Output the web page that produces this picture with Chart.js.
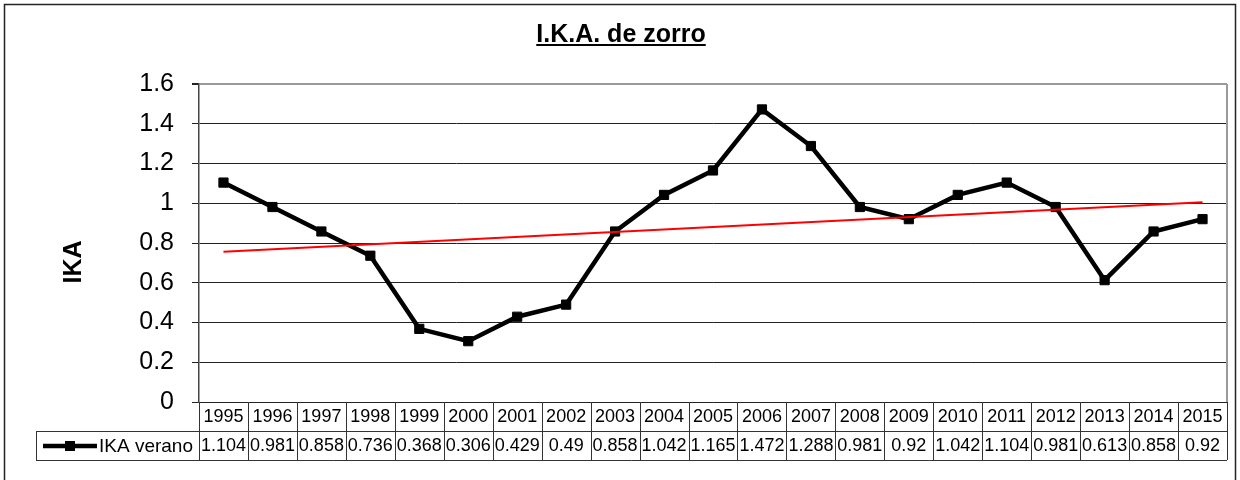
<!DOCTYPE html>
<html>
<head>
<meta charset="utf-8">
<title>I.K.A. de zorro</title>
<script src="https://cdn.jsdelivr.net/npm/chart.js@4.4.1/dist/chart.umd.min.js"></script>
<style>
  html, body { margin: 0; padding: 0; background: #fff; }
  #wrap { width: 1240px; height: 480px; position: relative; }
</style>
</head>
<body>
<div id="wrap"><canvas id="ikaChart" width="1240" height="480"></canvas></div>
<script>
// IKA de zorro, summer series 1995-2015
const years = ['1995','1996','1997','1998','1999','2000','2001','2002','2003','2004','2005',
               '2006','2007','2008','2009','2010','2011','2012','2013','2014','2015'];
const ikaVerano = [1.104, 0.981, 0.858, 0.736, 0.368, 0.306, 0.429, 0.49, 0.858, 1.042, 1.165,
                   1.472, 1.288, 0.981, 0.92, 1.042, 1.104, 0.981, 0.613, 0.858, 0.92];
// labels shown in the data table row (as printed)
const tableLabels = ['1.104','0.981','0.858','0.736','0.368','0.306','0.429','0.49','0.858','1.042','1.165',
                     '1.472','1.288','0.981','0.92','1.042','1.104','0.981','0.613','0.858','0.92'];
// linear trend endpoints
const trendStart = 0.756;
const trendEnd = 1.005;
const yTicks = [0, 0.2, 0.4, 0.6, 0.8, 1, 1.2, 1.4, 1.6];

const FONT = '"Liberation Sans", Arial, Helvetica, sans-serif';

// Title, axis label, outer frame and the data table under the plot
const decorPlugin = {
  id: 'decor',
  beforeDatasetsDraw(chart){
    const ctx = chart.ctx, a = chart.chartArea;
    ctx.save();
    ctx.strokeStyle = '#9a9a9a';
    ctx.lineWidth = 2;
    ctx.beginPath();
    ctx.moveTo(a.right, a.top);
    ctx.lineTo(a.right, a.bottom);
    ctx.stroke();
    ctx.restore();
  },
  afterDraw(chart){
    const ctx = chart.ctx, a = chart.chartArea, xs = chart.scales.x;
    const colW = a.width / years.length;
    const row1Top = a.bottom, row1Bot = a.bottom + 29, row2Bot = a.bottom + 58;
    const legendLeft = 36;

    ctx.save();

    // outer frame
    ctx.strokeStyle = '#222';
    ctx.lineWidth = 1.5;
    ctx.strokeRect(4.5, 4.5, 1231, 490);

    // title
    ctx.fillStyle = '#000';
    ctx.font = 'bold 25px ' + FONT;
    ctx.textAlign = 'center';
    ctx.textBaseline = 'alphabetic';
    const title = 'I.K.A. de zorro';
    ctx.fillText(title, 621, 42);
    const tw = ctx.measureText(title).width;
    ctx.fillRect(621 - tw / 2, 44, tw, 2);

    // y axis label
    ctx.save();
    ctx.translate(81, 262);
    ctx.rotate(-Math.PI / 2);
    ctx.font = 'bold 25px ' + FONT;
    ctx.textAlign = 'center';
    ctx.fillText('IKA', 0, 0);
    ctx.restore();

    // table grid
    ctx.strokeStyle = '#333';
    ctx.lineWidth = 1;
    ctx.beginPath();
    ctx.moveTo(a.left, row1Bot + 0.5);
    ctx.lineTo(a.right, row1Bot + 0.5);
    ctx.moveTo(legendLeft, row1Bot + 0.5);
    ctx.lineTo(a.left, row1Bot + 0.5);
    ctx.moveTo(legendLeft, row2Bot + 0.5);
    ctx.lineTo(a.right, row2Bot + 0.5);
    ctx.moveTo(legendLeft + 0.5, row1Bot);
    ctx.lineTo(legendLeft + 0.5, row2Bot);
    for (let i = 0; i <= years.length; i++) {
      const x = Math.round(a.left + i * colW) + 0.5;
      ctx.moveTo(x, row1Top);
      ctx.lineTo(x, row2Bot);
    }
    ctx.stroke();

    // table text
    ctx.fillStyle = '#000';
    ctx.font = '18px ' + FONT;
    ctx.textAlign = 'center';
    ctx.textBaseline = 'middle';
    years.forEach((yr, i) => {
      const cx = xs.getPixelForValue(i);
      ctx.fillText(yr, cx, (row1Top + row1Bot) / 2 + 1);
      ctx.fillText(tableLabels[i], cx, (row1Bot + row2Bot) / 2 + 1);
    });

    // legend key in the table
    const ly = (row1Bot + row2Bot) / 2 + 0.5;
    ctx.strokeStyle = '#000';
    ctx.lineWidth = 4.5;
    ctx.beginPath();
    ctx.moveTo(43, ly);
    ctx.lineTo(97, ly);
    ctx.stroke();
    ctx.fillRect(65, ly - 5, 10, 10);
    ctx.font = '19px ' + FONT;
    ctx.textAlign = 'left';
    ctx.fillText('IKA verano', 99, ly + 1);

    ctx.restore();
  }
};

new Chart(document.getElementById('ikaChart').getContext('2d'), {
  type: 'line',
  data: {
    labels: years,
    datasets: [
      {
        label: 'IKA verano',
        data: ikaVerano,
        borderColor: '#000',
        backgroundColor: '#000',
        borderWidth: 4.5,
        pointStyle: 'rect',
        pointRadius: 6.5,
        pointBorderWidth: 1,
        pointBackgroundColor: '#000',
        pointBorderColor: '#000',
        tension: 0,
        order: 2
      },
      {
        label: 'Lineal (IKA verano)',
        data: [{ x: years[0], y: trendStart }, { x: years[years.length - 1], y: trendEnd }],
        borderColor: '#ff0000',
        borderWidth: 2,
        pointRadius: 0,
        tension: 0,
        order: 1
      }
    ]
  },
  options: {
    responsive: false,
    animation: false,
    layout: { padding: { top: 84, bottom: 78, left: 0, right: 13 } },
    plugins: {
      legend: { display: false },
      title: { display: false },
      tooltip: { enabled: false }
    },
    scales: {
      x: {
        type: 'category',
        offset: true,
        display: false
      },
      y: {
        min: 0,
        max: 1.6,
        afterFit(scale){ scale.width = 199; },
        afterBuildTicks(scale){ scale.ticks = yTicks.map(v => ({ value: v })); },
        ticks: {
          color: '#000',
          padding: 18,
          font: { family: FONT, size: 25 },
          callback: v => String(+Number(v).toFixed(1))
        },
        grid: {
          color: c => (c.tick && c.tick.value === 1.6) ? '#9a9a9a' : '#222',
          lineWidth: c => (c.tick && c.tick.value === 1.6) ? 2 : 1,
          tickColor: '#222',
          tickLength: 7
        },
        border: { color: '#444', width: 1.5 }
      }
    }
  },
  plugins: [decorPlugin]
});
</script>
</body>
</html>
